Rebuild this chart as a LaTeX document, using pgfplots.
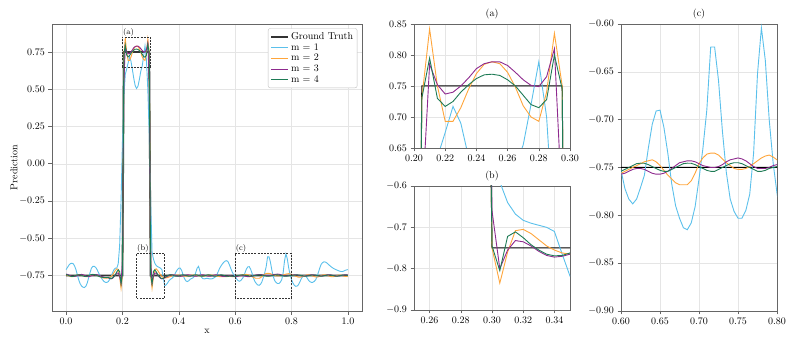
\documentclass[border=0pt]{standalone}
\usepackage{pgfplots}
\usepackage{pgfplotstable}
\pgfplotsset{compat=1.18}

\definecolor{cone}{HTML}{5BC0EB}
\definecolor{ctwo}{HTML}{FFA53A}
\definecolor{cthree}{HTML}{8E2A8E}
\definecolor{cfour}{HTML}{1E7B55}
\definecolor{frame}{HTML}{666666}

% predictions on the x grid (step 0.005)
\pgfplotstableread{
x m1 m2 m3 m4
0.000 -0.710 -0.745 -0.740 -0.743
0.005 -0.695 -0.748 -0.742 -0.746
0.010 -0.680 -0.752 -0.746 -0.750
0.015 -0.670 -0.756 -0.750 -0.754
0.020 -0.667 -0.758 -0.754 -0.756
0.025 -0.670 -0.757 -0.756 -0.755
0.030 -0.685 -0.754 -0.756 -0.752
0.035 -0.710 -0.750 -0.754 -0.748
0.040 -0.745 -0.746 -0.750 -0.745
0.045 -0.780 -0.744 -0.746 -0.744
0.050 -0.805 -0.744 -0.743 -0.745
0.055 -0.820 -0.746 -0.742 -0.748
0.060 -0.828 -0.750 -0.744 -0.752
0.065 -0.830 -0.754 -0.748 -0.755
0.070 -0.822 -0.757 -0.752 -0.756
0.075 -0.800 -0.758 -0.756 -0.754
0.080 -0.765 -0.756 -0.757 -0.750
0.085 -0.730 -0.752 -0.755 -0.746
0.090 -0.700 -0.748 -0.751 -0.743
0.095 -0.688 -0.745 -0.747 -0.742
0.100 -0.688 -0.744 -0.744 -0.743
0.105 -0.695 -0.745 -0.743 -0.746
0.110 -0.710 -0.748 -0.744 -0.750
0.115 -0.730 -0.752 -0.747 -0.754
0.120 -0.750 -0.757 -0.751 -0.758
0.125 -0.765 -0.762 -0.755 -0.760
0.130 -0.780 -0.765 -0.758 -0.762
0.135 -0.790 -0.767 -0.761 -0.763
0.140 -0.795 -0.768 -0.763 -0.763
0.145 -0.795 -0.767 -0.764 -0.763
0.150 -0.790 -0.765 -0.765 -0.762
0.155 -0.775 -0.762 -0.770 -0.768
0.160 -0.755 -0.755 -0.772 -0.769
0.165 -0.730 -0.745 -0.768 -0.765
0.170 -0.710 -0.730 -0.758 -0.755
0.175 -0.700 -0.715 -0.745 -0.742
0.180 -0.700 -0.705 -0.735 -0.725
0.185 -0.670 -0.708 -0.732 -0.711
0.190 -0.550 -0.760 -0.755 -0.722
0.195 -0.250 -0.835 -0.800 -0.805
0.200 0.150 -0.750 -0.660 -0.745
0.205 0.450 0.730 0.550 0.730
0.210 0.600 0.842 0.785 0.795
0.215 0.635 0.750 0.752 0.730
0.220 0.675 0.693 0.737 0.717
0.225 0.717 0.693 0.740 0.725
0.230 0.690 0.715 0.750 0.740
0.235 0.635 0.745 0.763 0.752
0.240 0.575 0.770 0.778 0.762
0.245 0.525 0.785 0.786 0.768
0.250 0.505 0.789 0.789 0.769
0.255 0.520 0.786 0.789 0.767
0.260 0.565 0.772 0.783 0.760
0.265 0.620 0.748 0.772 0.750
0.270 0.655 0.718 0.760 0.735
0.275 0.720 0.700 0.751 0.720
0.280 0.789 0.693 0.749 0.715
0.285 0.700 0.740 0.765 0.728
0.290 0.500 0.835 0.810 0.800
0.295 0.200 0.750 0.550 0.745
0.300 -0.250 -0.750 -0.660 -0.745
0.305 -0.590 -0.835 -0.800 -0.805
0.310 -0.640 -0.760 -0.755 -0.722
0.315 -0.668 -0.708 -0.732 -0.711
0.320 -0.683 -0.705 -0.735 -0.725
0.325 -0.690 -0.715 -0.745 -0.742
0.330 -0.695 -0.730 -0.758 -0.755
0.335 -0.700 -0.745 -0.768 -0.765
0.340 -0.710 -0.755 -0.772 -0.769
0.345 -0.765 -0.762 -0.770 -0.768
0.350 -0.818 -0.765 -0.765 -0.762
0.355 -0.812 -0.765 -0.760 -0.756
0.360 -0.800 -0.763 -0.755 -0.750
0.365 -0.785 -0.760 -0.750 -0.746
0.370 -0.775 -0.756 -0.746 -0.744
0.375 -0.770 -0.752 -0.744 -0.745
0.380 -0.760 -0.749 -0.744 -0.748
0.385 -0.745 -0.747 -0.746 -0.752
0.390 -0.725 -0.746 -0.749 -0.754
0.395 -0.710 -0.746 -0.752 -0.754
0.400 -0.700 -0.747 -0.754 -0.752
0.405 -0.700 -0.749 -0.755 -0.749
0.410 -0.715 -0.751 -0.754 -0.746
0.415 -0.745 -0.753 -0.752 -0.745
0.420 -0.770 -0.754 -0.749 -0.746
0.425 -0.785 -0.754 -0.746 -0.749
0.430 -0.790 -0.753 -0.745 -0.752
0.435 -0.785 -0.751 -0.745 -0.754
0.440 -0.775 -0.749 -0.747 -0.754
0.445 -0.770 -0.747 -0.749 -0.752
0.450 -0.765 -0.746 -0.752 -0.749
0.455 -0.755 -0.746 -0.754 -0.746
0.460 -0.730 -0.747 -0.754 -0.745
0.465 -0.700 -0.749 -0.753 -0.746
0.470 -0.688 -0.751 -0.750 -0.749
0.475 -0.720 -0.753 -0.747 -0.752
0.480 -0.760 -0.754 -0.745 -0.754
0.485 -0.770 -0.754 -0.745 -0.754
0.490 -0.772 -0.753 -0.746 -0.752
0.495 -0.770 -0.751 -0.749 -0.749
0.500 -0.768 -0.749 -0.752 -0.746
0.505 -0.770 -0.747 -0.754 -0.745
0.510 -0.772 -0.746 -0.754 -0.746
0.515 -0.772 -0.746 -0.753 -0.749
0.520 -0.770 -0.747 -0.750 -0.752
0.525 -0.765 -0.749 -0.747 -0.754
0.530 -0.758 -0.751 -0.745 -0.754
0.535 -0.745 -0.753 -0.745 -0.752
0.540 -0.722 -0.755 -0.747 -0.749
0.545 -0.700 -0.757 -0.750 -0.746
0.550 -0.685 -0.758 -0.753 -0.745
0.555 -0.670 -0.758 -0.755 -0.746
0.560 -0.660 -0.758 -0.756 -0.749
0.565 -0.652 -0.758 -0.756 -0.752
0.570 -0.650 -0.757 -0.754 -0.754
0.575 -0.658 -0.756 -0.752 -0.755
0.580 -0.680 -0.755 -0.751 -0.754
0.585 -0.705 -0.756 -0.752 -0.753
0.590 -0.728 -0.757 -0.754 -0.754
0.595 -0.744 -0.757 -0.756 -0.755
0.600 -0.753 -0.756 -0.757 -0.754
0.605 -0.772 -0.754 -0.756 -0.752
0.610 -0.783 -0.752 -0.754 -0.750
0.615 -0.788 -0.750 -0.752 -0.748
0.620 -0.783 -0.748 -0.751 -0.746
0.625 -0.771 -0.746 -0.751 -0.7455
0.630 -0.758 -0.744 -0.752 -0.7456
0.635 -0.730 -0.743 -0.754 -0.747
0.640 -0.705 -0.742 -0.756 -0.749
0.645 -0.691 -0.744 -0.757 -0.751
0.650 -0.690 -0.748 -0.757 -0.753
0.655 -0.708 -0.753 -0.756 -0.754
0.660 -0.735 -0.758 -0.754 -0.754
0.665 -0.767 -0.762 -0.751 -0.752
0.670 -0.790 -0.766 -0.748 -0.750
0.675 -0.803 -0.768 -0.745 -0.748
0.680 -0.813 -0.768 -0.744 -0.746
0.685 -0.815 -0.768 -0.743 -0.7455
0.690 -0.808 -0.764 -0.743 -0.7456
0.695 -0.791 -0.756 -0.744 -0.747
0.700 -0.762 -0.746 -0.746 -0.749
0.705 -0.730 -0.740 -0.748 -0.751
0.710 -0.690 -0.736 -0.749 -0.753
0.715 -0.624 -0.735 -0.750 -0.754
0.720 -0.624 -0.735 -0.750 -0.754
0.725 -0.659 -0.737 -0.749 -0.752
0.730 -0.712 -0.741 -0.747 -0.750
0.735 -0.755 -0.745 -0.744 -0.748
0.740 -0.783 -0.748 -0.742 -0.746
0.745 -0.796 -0.751 -0.741 -0.745
0.750 -0.803 -0.752 -0.740 -0.745
0.755 -0.803 -0.752 -0.741 -0.746
0.760 -0.795 -0.751 -0.743 -0.748
0.765 -0.778 -0.749 -0.746 -0.750
0.770 -0.735 -0.746 -0.749 -0.752
0.775 -0.652 -0.743 -0.751 -0.754
0.780 -0.604 -0.740 -0.751 -0.754
0.785 -0.638 -0.738 -0.751 -0.753
0.790 -0.700 -0.737 -0.750 -0.751
0.795 -0.745 -0.739 -0.748 -0.750
0.800 -0.777 -0.742 -0.747 -0.749
0.805 -0.800 -0.746 -0.746 -0.748
0.810 -0.815 -0.750 -0.745 -0.747
0.815 -0.822 -0.754 -0.745 -0.746
0.820 -0.820 -0.758 -0.746 -0.7455
0.825 -0.810 -0.761 -0.748 -0.746
0.830 -0.790 -0.761 -0.750 -0.748
0.835 -0.770 -0.759 -0.752 -0.750
0.840 -0.755 -0.756 -0.753 -0.752
0.845 -0.748 -0.752 -0.753 -0.754
0.850 -0.752 -0.748 -0.752 -0.754
0.855 -0.765 -0.745 -0.750 -0.753
0.860 -0.780 -0.744 -0.748 -0.751
0.865 -0.790 -0.745 -0.746 -0.749
0.870 -0.795 -0.748 -0.745 -0.747
0.875 -0.795 -0.752 -0.745 -0.746
0.880 -0.790 -0.756 -0.746 -0.746
0.885 -0.780 -0.759 -0.748 -0.747
0.890 -0.760 -0.760 -0.750 -0.749
0.895 -0.730 -0.758 -0.752 -0.751
0.900 -0.700 -0.754 -0.753 -0.753
0.905 -0.675 -0.750 -0.753 -0.754
0.910 -0.663 -0.746 -0.752 -0.753
0.915 -0.658 -0.744 -0.750 -0.751
0.920 -0.659 -0.744 -0.748 -0.749
0.925 -0.665 -0.746 -0.746 -0.747
0.930 -0.673 -0.750 -0.745 -0.746
0.935 -0.682 -0.754 -0.745 -0.746
0.940 -0.690 -0.757 -0.746 -0.747
0.945 -0.697 -0.758 -0.748 -0.749
0.950 -0.703 -0.757 -0.750 -0.751
0.955 -0.708 -0.754 -0.752 -0.753
0.960 -0.712 -0.750 -0.753 -0.754
0.965 -0.716 -0.747 -0.753 -0.753
0.970 -0.720 -0.746 -0.752 -0.751
0.975 -0.722 -0.747 -0.750 -0.749
0.980 -0.723 -0.750 -0.748 -0.747
0.985 -0.720 -0.753 -0.746 -0.746
0.990 -0.715 -0.755 -0.745 -0.746
0.995 -0.712 -0.755 -0.745 -0.747
1.000 -0.710 -0.754 -0.746 -0.749
}\pred

\pgfplotstableread{
x y
0.000 -0.75
0.200 -0.75
0.205 0.75
0.295 0.75
0.300 -0.75
1.000 -0.75
}\truth

\pgfplotsset{
  panel/.style={
    scale only axis,
    anchor=north west,
    axis line style={frame, line width=0.8pt},
    grid=major,
    grid style={black!10, line width=0.5pt},
    tick align=outside,
    tick pos=left,
    major tick length=3.5pt,
    tick style={frame, line width=0.6pt},
    every axis title/.style={at={(0.5,1)}, anchor=south, yshift=1pt},
  },
  xfmt/.style={xticklabel style={/pgf/number format/.cd, fixed, fixed zerofill, precision=#1}},
  yfmt/.style={yticklabel style={/pgf/number format/.cd, fixed, fixed zerofill, precision=#1}},
  zoomlines/.style={no markers, line width=0.9pt},
  gt/.style={black, line width=1pt},
}

\begin{document}
\begin{tikzpicture}
\useasboundingbox (0pt,0pt) rectangle (793pt,-347pt);

% main panel
\begin{axis}[panel,
  at={(52pt,-24pt)}, width=310pt, height=287pt,
  xmin=-0.05, xmax=1.05, ymin=-0.9875, ymax=0.9375,
  xtick={0,0.2,0.4,0.6,0.8,1}, xfmt=1,
  ytick={-0.75,-0.5,-0.25,0,0.25,0.5,0.75}, yfmt=2,
  xlabel={x}, ylabel={Prediction},
  xlabel style={yshift=2pt},
  ylabel style={yshift=-5pt},
  legend cell align=left,
  legend style={at={(0.985,0.985)}, anchor=north east, draw=black!25,
    rounded corners=2pt, fill=white, inner sep=2pt, row sep=-1.5pt},
]
\addplot[draw=black!80, line width=1.8pt, no markers] table[x=x, y=y] {\truth};
\addlegendentry{Ground Truth}
\addplot[cone, no markers, line width=0.9pt] table[x=x, y=m1] {\pred};
\addlegendentry{m = 1}
\addplot[ctwo, no markers, line width=0.9pt] table[x=x, y=m2] {\pred};
\addlegendentry{m = 2}
\addplot[cthree, no markers, line width=0.9pt] table[x=x, y=m3] {\pred};
\addlegendentry{m = 3}
\addplot[cfour, no markers, line width=0.9pt] table[x=x, y=m4] {\pred};
\addlegendentry{m = 4}

\draw[black!80, dash pattern=on 2pt off 1.2pt, line width=0.6pt]
  (axis cs:0.2,0.65) rectangle (axis cs:0.3,0.85);
\draw[black!80, dash pattern=on 2pt off 1.2pt, line width=0.6pt]
  (axis cs:0.25,-0.9) rectangle (axis cs:0.35,-0.6);
\draw[black!80, dash pattern=on 2pt off 1.2pt, line width=0.6pt]
  (axis cs:0.6,-0.9) rectangle (axis cs:0.8,-0.6);
\node[anchor=south west, inner sep=0.5pt, font=\footnotesize] at (axis cs:0.2,0.85) {(a)};
\node[anchor=south west, inner sep=0.5pt, font=\footnotesize] at (axis cs:0.25,-0.6) {(b)};
\node[anchor=south west, inner sep=0.5pt, font=\footnotesize] at (axis cs:0.6,-0.6) {(c)};
\end{axis}

% inset (a)
\begin{axis}[panel,
  at={(414pt,-24pt)}, width=156pt, height=124pt,
  xmin=0.2, xmax=0.3, ymin=0.65, ymax=0.85,
  xtick={0.2,0.22,0.24,0.26,0.28,0.3}, xfmt=2,
  ytick={0.65,0.7,0.75,0.8,0.85}, yfmt=2,
  title={(a)},
]
\addplot[gt] table[x=x, y=y] {\truth};
\addplot[cone, zoomlines] table[x=x, y=m1] {\pred};
\addplot[ctwo, zoomlines] table[x=x, y=m2] {\pred};
\addplot[cthree, zoomlines] table[x=x, y=m3] {\pred};
\addplot[cfour, zoomlines] table[x=x, y=m4] {\pred};
\end{axis}

% inset (b)
\begin{axis}[panel,
  at={(414pt,-186pt)}, width=156pt, height=124pt,
  xmin=0.25, xmax=0.35, ymin=-0.9, ymax=-0.6,
  xtick={0.26,0.28,0.3,0.32,0.34}, xfmt=2,
  ytick={-0.9,-0.8,-0.7,-0.6}, yfmt=1,
  title={(b)},
]
\addplot[gt] table[x=x, y=y] {\truth};
\addplot[cone, zoomlines] table[x=x, y=m1] {\pred};
\addplot[ctwo, zoomlines] table[x=x, y=m2] {\pred};
\addplot[cthree, zoomlines] table[x=x, y=m3] {\pred};
\addplot[cfour, zoomlines] table[x=x, y=m4] {\pred};
\end{axis}

% inset (c)
\begin{axis}[panel,
  at={(621pt,-24pt)}, width=156pt, height=287pt,
  xmin=0.6, xmax=0.8, ymin=-0.9, ymax=-0.6,
  xtick={0.6,0.65,0.7,0.75,0.8}, xfmt=2,
  ytick={-0.9,-0.85,-0.8,-0.75,-0.7,-0.65,-0.6}, yfmt=2,
  title={(c)},
]
\addplot[gt] table[x=x, y=y] {\truth};
\addplot[cone, zoomlines] table[x=x, y=m1] {\pred};
\addplot[ctwo, zoomlines] table[x=x, y=m2] {\pred};
\addplot[cthree, zoomlines] table[x=x, y=m3] {\pred};
\addplot[cfour, zoomlines] table[x=x, y=m4] {\pred};
\end{axis}
\end{tikzpicture}
\end{document}
